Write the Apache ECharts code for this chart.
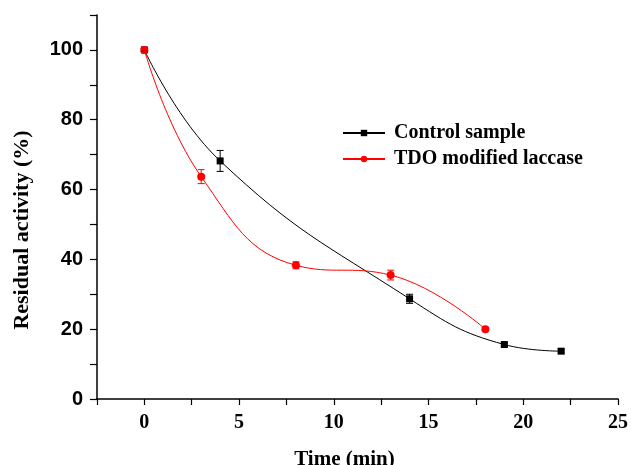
<!DOCTYPE html>
<html>
<head>
<meta charset="utf-8">
<title>Residual activity</title>
<script src="https://cdn.jsdelivr.net/npm/echarts@6/dist/echarts.min.js"></script>
<style>
html, body { margin: 0; padding: 0; background: #fff; }
#chart { width: 631px; height: 465px; }
</style>
</head>
<body>
<div id="chart"></div>
<script>
// data
var controlTime = [0, 4, 14, 19, 22];
var controlAct = [100, 68.2, 28.7, 15.6, 13.7];
var controlErr = [0.4, 3, 1.3, 0.5, 0.5];

var tdoTime = [0, 3, 8, 13, 18];
var tdoAct = [100, 63.7, 38.3, 35.5, 20];
var tdoErr = [0.4, 2, 1, 1.4, 0.5];

var serif = '"Liberation Serif", "Times New Roman", serif';
var sans = '"Liberation Sans", Arial, sans-serif';

function pairs(xs, ys) {
	return xs.map(function (x, i) { return [x, ys[i]]; });
}
function errData(xs, ys, es) {
	return xs.map(function (x, i) { return [x, ys[i], es[i]]; });
}

function errRender(color) {
	return function (params, api) {
		var x = api.value(0), y = api.value(1), e = api.value(2);
		var hi = api.coord([x, y + e]);
		var lo = api.coord([x, y - e]);
		var w = 3.5;
		var st = { stroke: color, lineWidth: 1 };
		return {
			type: 'group',
			children: [
				{ type: 'line', shape: { x1: hi[0], y1: hi[1], x2: lo[0], y2: lo[1] }, style: st },
				{ type: 'line', shape: { x1: hi[0] - w, y1: hi[1], x2: hi[0] + w, y2: hi[1] }, style: st },
				{ type: 'line', shape: { x1: lo[0] - w, y1: lo[1], x2: lo[0] + w, y2: lo[1] }, style: st }
			]
		};
	};
}

var chart = echarts.init(document.getElementById('chart'));
chart.setOption({
	animation: false,
	backgroundColor: '#fff',
	grid: { left: 97, top: 15, right: 13, bottom: 66, containLabel: false, outerBoundsMode: 'none' },
	legend: {
		left: 337,
		top: 118,
		orient: 'vertical',
		itemWidth: 42,
		itemHeight: 8,
		itemGap: 6,
		data: ['Control sample', 'TDO modified laccase'],
		textStyle: { fontFamily: serif, fontWeight: 'bold', fontSize: 20, color: '#000', padding: [0, 0, 0, 4] }
	},
	xAxis: {
		type: 'value',
		min: -2.5,
		max: 25,
		interval: 2.5,
		name: 'Time (min)',
		nameLocation: 'middle',
		nameGap: 50,
		nameTextStyle: { fontFamily: serif, fontWeight: 'bold', fontSize: 21, color: '#000', padding: [0, 26, 0, 0] },
		axisLine: { onZero: false, lineStyle: { color: '#000', width: 1.5 } },
		axisTick: { length: 6, lineStyle: { color: '#000', width: 1.2 } },
		axisLabel: {
			margin: 14,
			fontFamily: serif, fontWeight: 'bold', fontSize: 20, color: '#000',
			formatter: function (v) { return (v >= 0 && v % 5 === 0) ? String(v) : ''; }
		},
		splitLine: { show: false }
	},
	yAxis: {
		type: 'value',
		min: 0,
		max: 110,
		interval: 10,
		name: 'Residual activity (%)',
		nameLocation: 'middle',
		nameGap: 64,
		nameTextStyle: { fontFamily: serif, fontWeight: 'bold', fontSize: 22, color: '#000', padding: [0, 46, 0, 0] },
		axisLine: { show: true, onZero: false, lineStyle: { color: '#000', width: 1.5 } },
		axisTick: { show: true, length: 7, lineStyle: { color: '#000', width: 1.2 } },
		axisLabel: {
			margin: 14,
			fontFamily: sans, fontWeight: 'bold', fontSize: 20, color: '#000',
			formatter: function (v) { return (v % 20 === 0 && v <= 100) ? String(v) : ''; }
		},
		splitLine: { show: false }
	},
	series: [
		{
			name: 'Control sample',
			type: 'line',
			smooth: 0.45,
			data: pairs(controlTime, controlAct),
			symbol: 'rect',
			symbolSize: 7,
			itemStyle: { color: '#000' },
			lineStyle: { color: '#000', width: 1 },
			z: 3
		},
		{
			name: 'TDO modified laccase',
			type: 'line',
			smooth: 0.45,
			data: pairs(tdoTime, tdoAct),
			symbol: 'circle',
			symbolSize: 8,
			itemStyle: { color: '#ff0000' },
			lineStyle: { color: '#ff0000', width: 1 },
			z: 4
		},
		{
			type: 'custom',
			data: errData(controlTime, controlAct, controlErr),
			renderItem: errRender('#000'),
			z: 5
		},
		{
			type: 'custom',
			data: errData(tdoTime, tdoAct, tdoErr),
			renderItem: errRender('#ff0000'),
			z: 5
		}
	]
});
</script>
</body>
</html>
